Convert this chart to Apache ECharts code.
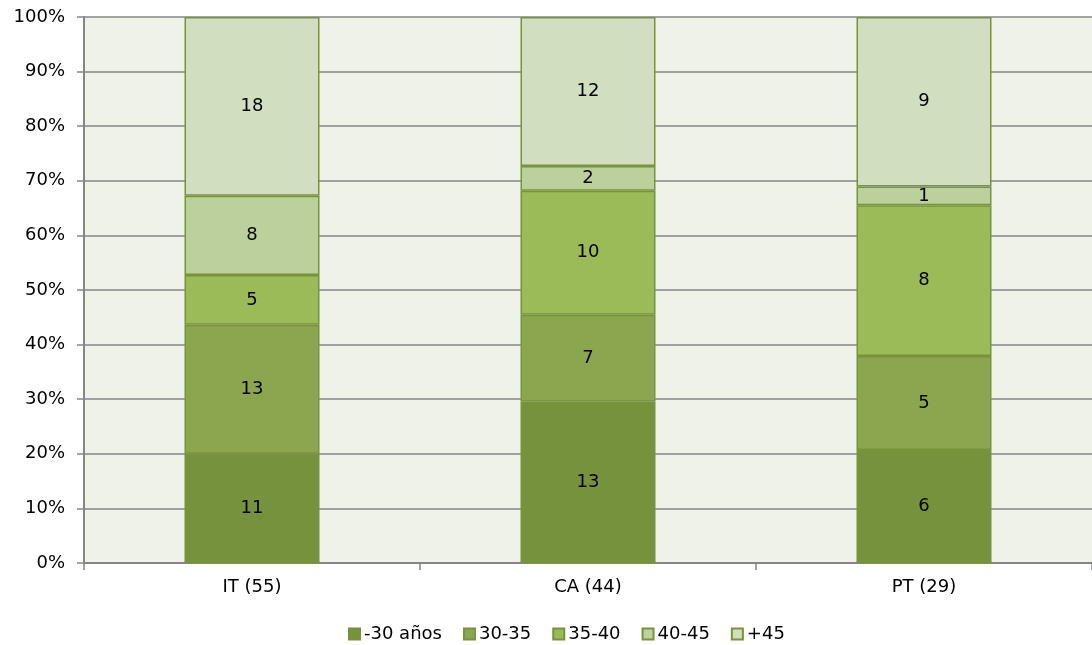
<!DOCTYPE html>
<html><head><meta charset="utf-8">
<script src="https://cdn.jsdelivr.net/npm/echarts@6/dist/echarts.min.js"></script>
<style>html,body{margin:0;padding:0;background:#fff}#c{width:1092px;height:645px}</style>
</head><body><div id="c"></div>
<script>
const categories = ['IT (55)', 'CA (44)', 'PT (29)'];
const seriesNames = ['-30 años', '30-35', '35-40', '40-45', '+45'];
const s_under30 = [11, 13, 6];
const s_30_35 = [13, 7, 5];
const s_35_40 = [5, 10, 8];
const s_40_45 = [8, 2, 1];
const s_over45 = [18, 12, 9];
const yTicks = [0, 10, 20, 30, 40, 50, 60, 70, 80, 90, 100];

const counts = [s_under30, s_30_35, s_35_40, s_40_45, s_over45];
const colors = ['#76923C', '#8BA64F', '#9BBB59', '#BBD09A', '#D1DEBF'];
const totals = categories.map((_, i) => counts.reduce((a, s) => a + s[i], 0));
const font = '"DejaVu Sans", Verdana, sans-serif';
const fs = 18;

const chart = echarts.init(document.getElementById('c'), null, {renderer: 'canvas'});
chart.setOption({
  animation: false,
  textStyle: {fontFamily: font},
  grid: {left: 84, top: 17, width: 1014, height: 546, show: true, backgroundColor: '#EFF2E9', borderWidth: 0},
  legend: {
    top: 620, left: 343, itemWidth: 11, itemHeight: 11, itemGap: 21,
    icon: 'rect',
    textStyle: {fontFamily: font, fontSize: fs, color: '#000', padding: [0, 0, 0, -1]},
    data: seriesNames
  },
  xAxis: {
    type: 'category', data: categories,
    axisLine: {lineStyle: {color: '#868686', width: 2}},
    axisTick: {show: true, length: 7, lineStyle: {color: '#868686', width: 1.5}},
    axisLabel: {fontFamily: font, fontSize: fs, color: '#000', margin: 15}
  },
  yAxis: {
    type: 'value', min: 0, max: 100, interval: 10,
    axisLine: {show: true, lineStyle: {color: '#868686', width: 2}},
    axisTick: {show: true, length: 7, lineStyle: {color: '#868686', width: 1.5}},
    splitLine: {lineStyle: {color: '#868686', width: 1.5}},
    axisLabel: {fontFamily: font, fontSize: fs, color: '#000', margin: 19,
      formatter: v => yTicks.includes(v) ? v + '%' : ''}
  },
  series: counts.map((arr, k) => ({
    name: seriesNames[k], type: 'bar', stack: 'all', barWidth: 135,
    itemStyle: {color: colors[k], borderColor: '#77933C', borderWidth: 1.5},
    label: {show: true, position: 'inside', fontFamily: font, fontSize: fs, color: '#000',
      formatter: p => arr[p.dataIndex]},
    data: arr.map((v, i) => v / totals[i] * 100)
  }))
});
</script></body></html>
